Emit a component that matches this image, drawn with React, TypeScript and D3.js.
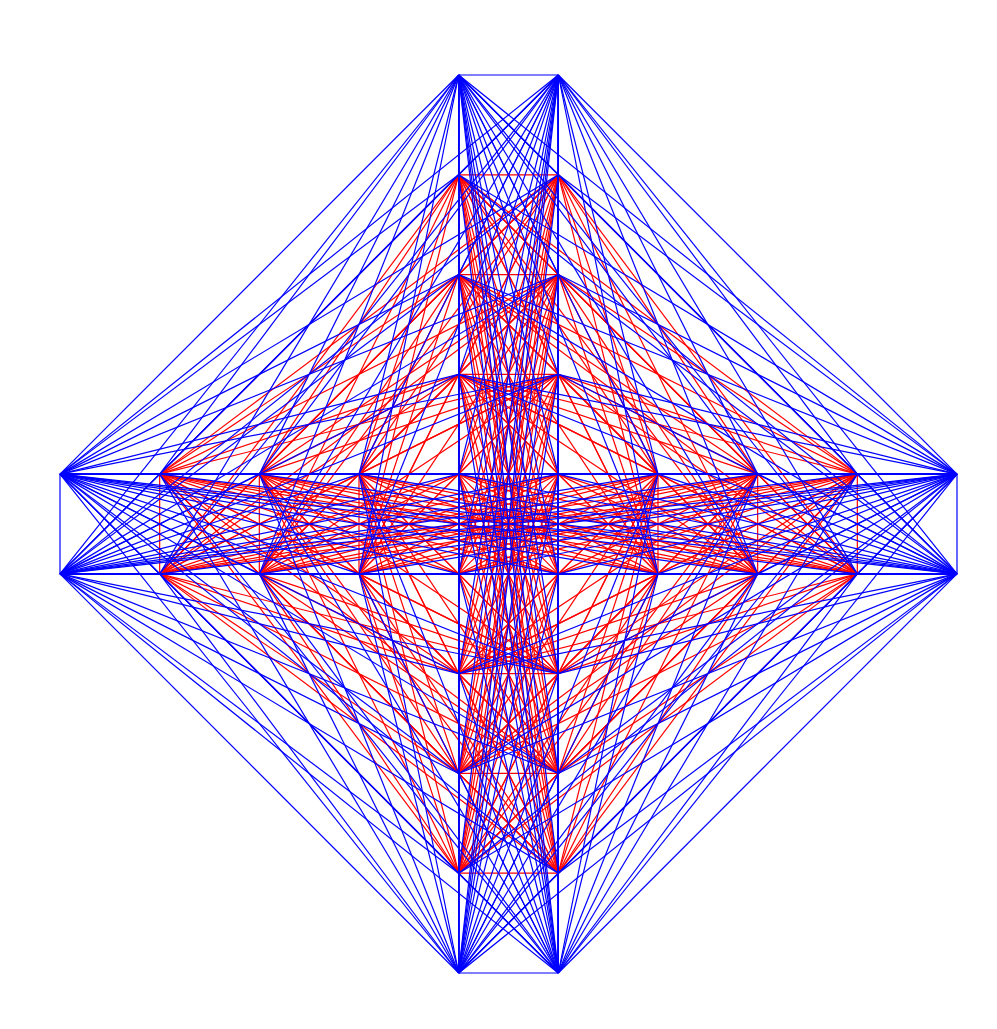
import React from "react";
import * as d3 from "d3";

const width = 997;
const height = 1029;

// grid columns / rows used by the cross-shaped node layout
const gridSteps = [0, 1, 2, 3, 4, 5, 6, 7, 8, 9];

// node positions as [column, row] on the grid
const nodeCols = [
  0, 0, 1, 1, 2, 2, 3, 3, 6, 6, 7, 7, 8, 8, 9, 9,
  4, 5, 4, 5, 4, 5, 4, 5, 4, 5, 4, 5, 4, 5, 4, 5,
  4, 5, 4, 5,
];
const nodeRows = [
  4, 5, 4, 5, 4, 5, 4, 5, 4, 5, 4, 5, 4, 5, 4, 5,
  0, 0, 1, 1, 2, 2, 3, 3, 6, 6, 7, 7, 8, 8, 9, 9,
  4, 4, 5, 5,
];

// ends of the arms get blue edges, everything else red
const outerSteps = [0, 9];
const outerColor = "#0000ff";
const innerColor = "#ff0000";

const x = d3
  .scaleLinear()
  .domain(d3.extent(gridSteps) as [number, number])
  .range([60, 957]);
const y = d3
  .scaleLinear()
  .domain(d3.extent(gridSteps) as [number, number])
  .range([75, 973]);

type Node = { c: number; r: number; outer: boolean };

const nodes: Node[] = nodeCols.map((c, i) => ({
  c,
  r: nodeRows[i],
  outer: outerSteps.includes(c) || outerSteps.includes(nodeRows[i]),
}));

// complete graph: every pair of nodes
const edges: { a: Node; b: Node; outer: boolean }[] = [];
nodes.forEach((a, i) => {
  nodes.slice(i + 1).forEach((b) => {
    edges.push({ a, b, outer: a.outer || b.outer });
  });
});

const line = d3
  .line<Node>()
  .x((d) => x(d.c))
  .y((d) => y(d.r));

const App = () => {
  const inner = edges.filter((e) => !e.outer);
  const outer = edges.filter((e) => e.outer);
  return (
    <svg
      width={width}
      height={height}
      style={{ position: "absolute", left: 0, top: 0, background: "white" }}
    >
      <g fill="none" strokeWidth={1.2}>
        {inner.map((e, i) => (
          <path key={"i" + i} d={line([e.a, e.b]) || ""} stroke={innerColor} />
        ))}
        {outer.map((e, i) => (
          <path key={"o" + i} d={line([e.a, e.b]) || ""} stroke={outerColor} />
        ))}
      </g>
    </svg>
  );
};

export default App;
